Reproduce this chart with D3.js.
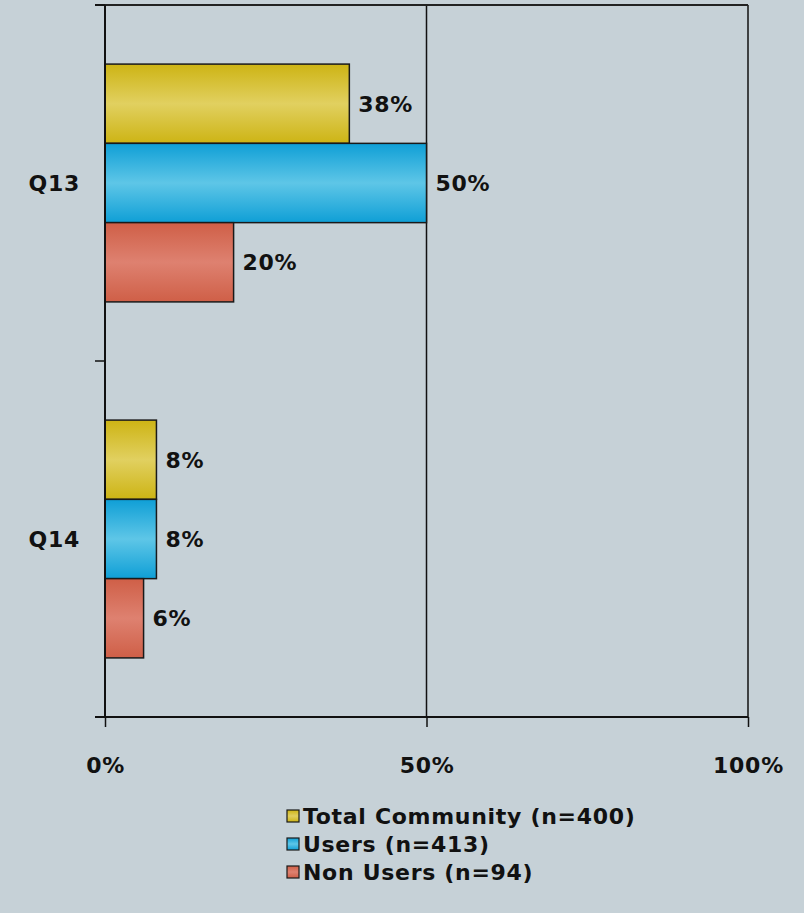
<!doctype html>
<html>
<head>
<meta charset="utf-8">
<script src="https://d3js.org/d3.v7.min.js"></script>
<style>
body { margin: 0; background: #c6d1d7; }
svg { display: block; }
text { font-family: "DejaVu Sans", Verdana, sans-serif; font-size: 22px; font-weight: bold; letter-spacing: 0.7px; fill: #111; }
</style>
</head>
<body>
<svg width="804" height="913"></svg>
<script>
// data
var questions = ["Q13", "Q14"];
var seriesNames = ["Total Community (n=400)", "Users (n=413)", "Non Users (n=94)"];
var totalCommunity = [38, 8];
var users = [50, 8];
var nonUsers = [20, 6];
var xTicks = [0, 50, 100];

var seriesValues = [totalCommunity, users, nonUsers];
var colors = [
  {edge: "#cdb414", mid: "#e1d060"},
  {edge: "#0f9fd6", mid: "#5ec6e7"},
  {edge: "#cf5f47", mid: "#de8170"}
];

var svg = d3.select("svg"),
    margin = {top: 5, right: 56, bottom: 196, left: 105},
    width = +svg.attr("width") - margin.left - margin.right,
    height = +svg.attr("height") - margin.top - margin.bottom;

var defs = svg.append("defs");
colors.forEach(function(c, i) {
  var gr = defs.append("linearGradient").attr("id", "grad" + i)
    .attr("x1", 0).attr("y1", 0).attr("x2", 0).attr("y2", 1);
  gr.append("stop").attr("offset", "0%").attr("stop-color", c.edge);
  gr.append("stop").attr("offset", "50%").attr("stop-color", c.mid);
  gr.append("stop").attr("offset", "100%").attr("stop-color", c.edge);
});

var g = svg.append("g").attr("transform", "translate(" + margin.left + "," + margin.top + ")");

var x = d3.scaleLinear().domain([0, 100]).range([0, width]);
var y = d3.scaleBand().domain(questions).range([0, height]);
var ySub = d3.scaleBand().domain(d3.range(seriesNames.length))
    .range([y.bandwidth() * 0.166, y.bandwidth() * 0.834]);

// frame + gridlines
g.selectAll(".grid").data(xTicks.slice(1)).enter().append("line")
  .attr("x1", function(d) { return x(d); }).attr("x2", function(d) { return x(d); })
  .attr("y1", 0).attr("y2", height)
  .attr("stroke", "#111").attr("stroke-width", 1.5);
g.append("line").attr("x1", -10).attr("x2", width).attr("y1", 0).attr("y2", 0)
  .attr("stroke", "#222").attr("stroke-width", 2);

// bars
var groups = g.selectAll(".grp").data(questions).enter().append("g")
  .attr("transform", function(d) { return "translate(0," + y(d) + ")"; });

groups.each(function(q, qi) {
  var gg = d3.select(this);
  seriesValues.forEach(function(vals, si) {
    var v = vals[qi];
    gg.append("rect")
      .attr("x", 0).attr("y", ySub(si))
      .attr("width", x(v)).attr("height", ySub.bandwidth())
      .attr("fill", "url(#grad" + si + ")")
      .attr("stroke", "#1a1a1a").attr("stroke-width", 1.5);
    gg.append("text")
      .attr("x", x(v) + 9).attr("y", ySub(si) + ySub.bandwidth() / 2)
      .attr("dy", "0.36em")
      .text(v + "%");
  });
});

// axes
var xAxis = g.append("g").attr("transform", "translate(0," + height + ")")
  .call(d3.axisBottom(x).tickValues(xTicks).tickSize(10).tickPadding(30)
    .tickFormat(function(d) { return d + "%"; }));
xAxis.select(".domain").attr("stroke", "#111").attr("stroke-width", 2).attr("d", "M-10,0H" + width);
xAxis.selectAll(".tick line").attr("stroke", "#111").attr("stroke-width", 1.5);
xAxis.selectAll("text").attr("font-size", 22).attr("font-family", null).attr("fill", "#111");

var yAxis = g.append("g");
yAxis.append("line").attr("x1", 0).attr("x2", 0).attr("y1", 0).attr("y2", height)
  .attr("stroke", "#111").attr("stroke-width", 2);
var bounds = [0].concat(questions.map(function(q) { return y(q) + y.bandwidth(); }));
yAxis.selectAll(".yt").data(bounds).enter().append("line")
  .attr("x1", -10).attr("x2", 0)
  .attr("y1", function(d) { return d; }).attr("y2", function(d) { return d; })
  .attr("stroke", "#111").attr("stroke-width", 1.5);
yAxis.selectAll(".yl").data(questions).enter().append("text")
  .attr("x", -25).attr("y", function(d) { return y(d) + y.bandwidth() / 2; })
  .attr("dy", "0.36em").attr("text-anchor", "end")
  .text(function(d) { return d; });

// legend
var legend = svg.append("g").attr("transform", "translate(287,810)");
seriesNames.forEach(function(name, i) {
  var row = legend.append("g").attr("transform", "translate(0," + (i * 28) + ")");
  row.append("rect").attr("width", 12).attr("height", 12)
    .attr("fill", "url(#grad" + i + ")").attr("stroke", "#1a1a1a").attr("stroke-width", 1.2);
  row.append("text").attr("x", 16).attr("y", 6).attr("dy", "0.36em").text(name);
});
</script>
</body>
</html>
